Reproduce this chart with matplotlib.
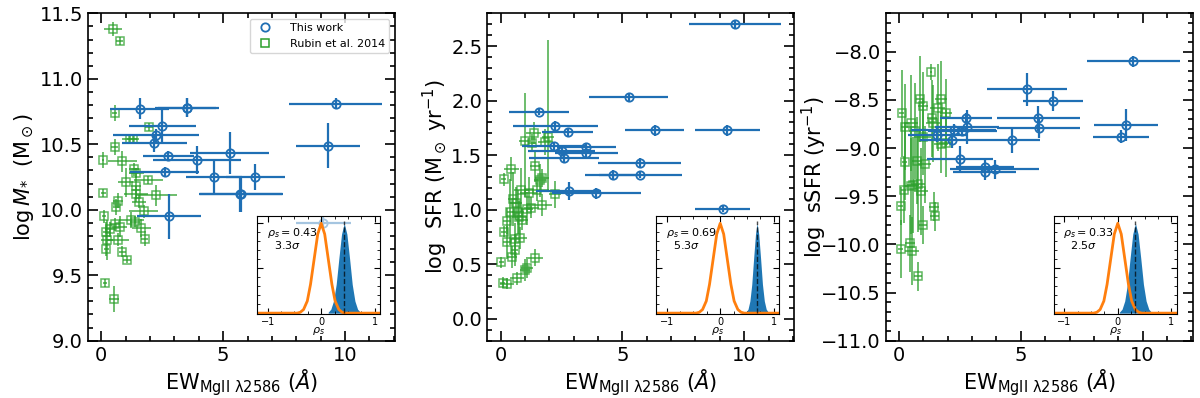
import matplotlib
matplotlib.use('Agg')
import matplotlib.pyplot as plt
from matplotlib.ticker import MultipleLocator
from matplotlib.lines import Line2D

# this work - same galaxies in all three panels
ew_this = [9.62, 5.26, 1.57, 2.24, 2.75, 6.32, 9.31, 2.18, 3.52, 2.50, 3.52, 2.60, 5.71, 4.62, 5.74, 2.79, 3.93, 9.11]
ew_this_err = [1.90, 1.63, 1.22, 1.75, 1.05, 1.22, 1.32, 1.32, 1.20, 1.37, 1.30, 1.42, 1.70, 1.15, 1.70, 1.32, 1.82, 1.14]
mstar_this = [10.81, 10.43, 10.77, 10.57, 10.41, 10.25, 10.49, 10.51, 10.78, 10.64, 10.78, 10.29, 10.12, 10.25, 10.12, 9.95, 10.38, 9.90]
mstar_this_err = [0.04, 0.16, 0.08, 0.05, 0.04, 0.10, 0.17, 0.07, 0.07, 0.14, 0.07, 0.04, 0.14, 0.13, 0.14, 0.17, 0.11, 0.05]
sfr_this = [2.70, 2.03, 1.90, 1.77, 1.71, 1.73, 1.73, 1.585, 1.576, 1.54, 1.52, 1.47, 1.43, 1.32, 1.32, 1.17, 1.15, 1.01]
sfr_this_err = [0.03, 0.04, 0.03, 0.04, 0.03, 0.05, 0.05, 0.04, 0.04, 0.04, 0.04, 0.04, 0.04, 0.04, 0.03, 0.08, 0.05, 0.03]
ssfr_this = [-8.10, -8.39, -8.86, -8.81, -8.69, -8.51, -8.76, -8.92, -9.20, -9.11, -9.25, -8.82, -8.69, -8.92, -8.79, -8.78, -9.22, -8.88]
ssfr_this_err = [0.06, 0.17, 0.08, 0.06, 0.05, 0.10, 0.17, 0.08, 0.08, 0.13, 0.08, 0.05, 0.13, 0.13, 0.10, 0.18, 0.10, 0.07]

# Rubin et al. 2014, read per panel
r1_ew = [0.48, 0.75, 0.55, 1.96, 1.16, 1.30, 0.55, 0.07, 0.86, 1.34, 1.44, 1.92, 1.00, 1.41, 0.68, 0.07, 2.26, 1.41, 1.55,
         0.62, 1.74, 0.11, 1.23, 1.37, 0.55, 0.75, 0.34, 0.20, 1.64, 0.23, 0.68, 1.78, 0.20, 0.86, 1.05, 0.15, 0.51]
r1_ew_err = [0.37, 0.15, 0.10, 0.15, 0.30, 0.25, 0.15, 0.05, 0.60, 0.20, 0.30, 0.60, 0.30, 0.20, 0.20, 0.10, 0.85, 0.50, 0.30,
             0.15, 0.60, 0.10, 0.50, 0.20, 0.20, 0.30, 0.20, 0.15, 0.40, 0.25, 0.45, 0.15, 0.10, 0.15, 0.15, 0.10, 0.20]
r1_m = [11.38, 11.29, 10.74, 10.63, 10.54, 10.54, 10.48, 10.38, 10.37, 10.31, 10.28, 10.23, 10.21, 10.18, 10.07, 10.13, 10.11,
        10.12, 10.06, 10.02, 9.99, 9.95, 9.92, 9.91, 9.89, 9.87, 9.85, 9.83, 9.86, 9.77, 9.77, 9.78, 9.70, 9.68, 9.62, 9.44, 9.32]
r1_m_err = [0.05, 0.03, 0.06, 0.03, 0.04, 0.04, 0.06, 0.06, 0.08, 0.05, 0.04, 0.03, 0.11, 0.10, 0.06, 0.03, 0.08, 0.06, 0.05,
            0.06, 0.05, 0.05, 0.06, 0.04, 0.05, 0.08, 0.06, 0.08, 0.07, 0.15, 0.05, 0.06, 0.05, 0.04, 0.03, 0.03, 0.10]

r2_ew = [1.36, 1.01, 1.29, 1.95, 1.84, 0.44, 1.40, 0.12, 1.70, 1.63, 0.85, 1.15, 1.50, 2.23, 0.49, 0.63, 1.70, 1.26, 1.08,
         0.71, 0.40, 0.77, 0.26, 0.88, 0.12, 0.26, 0.58, 0.78, 0.58, 0.47, 1.43, 0.03, 0.99, 1.08, 0.67, 0.08, 0.26]
r2_ew_err = [0.30, 0.25, 0.15, 0.25, 0.30, 0.30, 0.20, 0.10, 0.30, 0.25, 0.30, 0.35, 0.50, 0.25, 0.20, 0.25, 0.40, 0.30, 0.25,
             0.25, 0.15, 0.30, 0.15, 0.25, 0.10, 0.15, 0.20, 0.30, 0.15, 0.20, 0.30, 0.10, 0.20, 0.25, 0.30, 0.10, 0.30]
r2_sfr = [1.70, 1.63, 1.61, 1.67, 1.62, 1.37, 1.40, 1.28, 1.29, 1.27, 1.18, 1.15, 1.18, 1.14, 1.10, 1.06, 1.04, 1.02, 1.01,
          0.98, 0.98, 0.93, 0.90, 0.91, 0.80, 0.70, 0.73, 0.74, 0.63, 0.57, 0.56, 0.52, 0.45, 0.47, 0.37, 0.33, 0.32]
r2_sfr_lo = [0.10, 0.51, 0.08, 0.49, 0.12, 0.11, 0.15, 0.06, 0.08, 0.15, 0.20, 0.15, 0.10, 0.12, 0.25, 0.15, 0.10, 0.10, 0.15,
             0.20, 0.30, 0.15, 0.12, 0.10, 0.05, 0.15, 0.15, 0.10, 0.15, 0.10, 0.08, 0.05, 0.10, 0.10, 0.06, 0.05, 0.05]
r2_sfr_hi = [0.10, 0.44, 0.08, 0.89, 0.12, 0.11, 0.15, 0.06, 0.08, 0.15, 0.20, 0.15, 0.10, 0.12, 0.25, 0.15, 0.10, 0.10, 0.15,
             0.20, 0.30, 0.15, 0.12, 0.10, 0.05, 0.15, 0.15, 0.10, 0.15, 0.10, 0.08, 0.05, 0.10, 0.10, 0.06, 0.05, 0.05]

r3_ew = [1.32, 0.85, 1.73, 0.98, 1.59, 0.12, 1.94, 1.35, 0.50, 0.23, 1.39, 0.64, 0.98, 1.93, 1.73, 0.23, 0.75, 1.05, 0.57,
         0.78, 0.20, 0.91, 0.48, 1.43, 0.07, 1.46, 0.98, 0.07, 0.44, 0.53, 0.78]
r3_ew_err = [0.05, 0.15, 0.25, 0.20, 0.30, 0.10, 0.25, 0.20, 0.30, 0.15, 0.30, 0.25, 0.35, 0.30, 0.30, 0.10, 0.20, 0.25, 0.25,
             0.30, 0.10, 0.30, 0.25, 0.20, 0.10, 0.20, 0.15, 0.10, 0.20, 0.30, 0.15]
r3_ssfr = [-8.21, -8.49, -8.49, -8.56, -8.58, -8.64, -8.63, -8.69, -8.74, -8.78, -8.74, -8.82, -8.88, -8.95, -8.96, -9.14, -9.13,
           -9.17, -9.38, -9.37, -9.43, -9.45, -9.39, -9.61, -9.60, -9.71, -9.80, -10.05, -9.99, -10.07, -10.33]
r3_ssfr_err = [0.08, 0.45, 0.40, 0.35, 0.45, 0.45, 0.35, 0.40, 0.50, 0.45, 0.40, 0.50, 0.40, 0.35, 0.30, 0.40, 0.45, 0.40, 0.50,
               0.50, 0.35, 0.45, 0.50, 0.15, 0.20, 0.15, 0.20, 0.30, 0.30, 0.35, 0.15]

# inset curves (null distribution + bootstrapped rho_s)
null_x = [-1.2, -0.45, -0.39, -0.33, -0.26, -0.2, -0.13, -0.065, 0.0, 0.065, 0.13, 0.2, 0.26, 0.33, 0.39, 0.45, 1.1]
null_y = [0.0, 0.0, 0.01, 0.04, 0.135, 0.32, 0.61, 0.88, 1.0, 0.88, 0.61, 0.32, 0.135, 0.04, 0.01, 0.0, 0.0]
rho_x1 = [0.13, 0.18, 0.23, 0.28, 0.33, 0.38, 0.43, 0.48, 0.53, 0.58, 0.63, 0.68, 0.73]
rho_x2 = [0.48, 0.52, 0.555, 0.59, 0.625, 0.66, 0.69, 0.72, 0.755, 0.79, 0.825, 0.86, 0.90]
rho_x3 = [0.03, 0.08, 0.13, 0.18, 0.23, 0.28, 0.33, 0.38, 0.43, 0.48, 0.53, 0.58, 0.63]
rho_y = [0.01, 0.044, 0.135, 0.32, 0.61, 0.88, 1.0, 0.88, 0.61, 0.32, 0.135, 0.044, 0.01]
rho_s = [0.43, 0.69, 0.33]
sigma_txt = ['3.3', '5.3', '2.5']

blue = '#1f6fb4'
green = '#2ca02c'

fig = plt.figure(figsize=(12, 3.98), dpi=100)
lefts = [0.0733, 0.406, 0.738]
inset_lefts = [0.2142, 0.5467, 0.878]
ylab_x = [-0.168, -0.124, -0.186]   # where the y labels sit (they overlap ticks a bit in panel 3)

panels = [
    (mstar_this, mstar_this_err, r1_ew, r1_ew_err, r1_m, r1_m_err, (9.0, 11.5), r'$\log M_{*}$  (M$_\odot$)', rho_x1),
    (sfr_this, sfr_this_err, r2_ew, r2_ew_err, r2_sfr, [r2_sfr_lo, r2_sfr_hi], (-0.2, 2.8), r'log  SFR (M$_\odot$ yr$^{-1}$)', rho_x2),
    (ssfr_this, ssfr_this_err, r3_ew, r3_ew_err, r3_ssfr, r3_ssfr_err, (-11.0, -7.6), r'log  sSFR (yr$^{-1}$)', rho_x3),
]

for i, (yt, yte, rx, rxe, ry, rye, ylim, ylab, rx_curve) in enumerate(panels):
    ax = fig.add_axes([lefts[i], 0.144, 0.2558, 0.8225])
    ax.errorbar(rx, ry, xerr=rxe, yerr=rye, fmt='s', mfc='none', mec=green, ms=6, mew=1.1,
                ecolor=green, elinewidth=1.3, capsize=0, alpha=0.75, zorder=2)
    ax.errorbar(ew_this, yt, xerr=ew_this_err, yerr=yte, fmt='o', mfc='none', mec=blue, ms=6, mew=1.3,
                ecolor=blue, elinewidth=1.6, capsize=0, zorder=3)
    ax.set_xlim(-0.55, 12.05)
    ax.set_ylim(*ylim)
    ax.xaxis.set_major_locator(MultipleLocator(5))
    ax.xaxis.set_minor_locator(MultipleLocator(1))
    ax.yaxis.set_major_locator(MultipleLocator(0.5))
    ax.yaxis.set_minor_locator(MultipleLocator(0.1))
    ax.tick_params(which='both', direction='in', top=True, right=True, labelsize=14, width=1.2)
    ax.tick_params(which='major', length=7)
    ax.tick_params(which='minor', length=3.5)
    for s in ax.spines.values():
        s.set_linewidth(1.2)
    ax.set_xlabel(r'EW$_{\rm MgII\ \lambda2586}$ ($Å$)', fontsize=15, labelpad=2)
    ax.set_ylabel(ylab, fontsize=15)
    ax.yaxis.set_label_coords(ylab_x[i], 0.5)
    if i == 0:
        h = [Line2D([], [], ls='none', marker='o', mfc='none', mec=blue, ms=6, mew=1.3),
             Line2D([], [], ls='none', marker='s', mfc='none', mec=green, ms=6, mew=1.1)]
        ax.legend(h, ['This work', 'Rubin et al. 2014'], loc='upper right', fontsize=8, handletextpad=1.2)

    # inset with the correlation significance
    ins = fig.add_axes([inset_lefts[i], 0.211, 0.1025, 0.246])
    ins.set_facecolor((1, 1, 1, 0.6))
    ins.fill_between(rx_curve, 0, rho_y, color='#1f77b4', lw=0)
    ins.plot(null_x, null_y, color='#ff7f0e', lw=2)
    ins.vlines(rho_s[i], 0, 1.03, colors='k', linestyles='--', lw=1, alpha=0.7)
    ins.set_xlim(-1.2, 1.1)
    ins.set_ylim(-0.01, 1.08)
    ins.xaxis.set_major_locator(MultipleLocator(1))
    ins.xaxis.set_minor_locator(MultipleLocator(0.25))
    ins.yaxis.set_major_locator(MultipleLocator(0.5))
    ins.yaxis.set_minor_locator(MultipleLocator(0.1))
    ins.tick_params(which='both', direction='in', top=True, right=True, labelsize=7, labelleft=False, pad=2)
    ins.tick_params(which='major', length=4)
    ins.tick_params(which='minor', length=2)
    ins.set_xlabel(r'$\rho_s$', fontsize=8, labelpad=-1)
    ins.text(0.08, 0.9, r'$\rho_s = %.2f$' % rho_s[i] + '\n  ' + r'$%s\sigma$' % sigma_txt[i],
             transform=ins.transAxes, fontsize=8, va='top', ha='left', linespacing=0.95)

plt.savefig('out.png', dpi=100)
